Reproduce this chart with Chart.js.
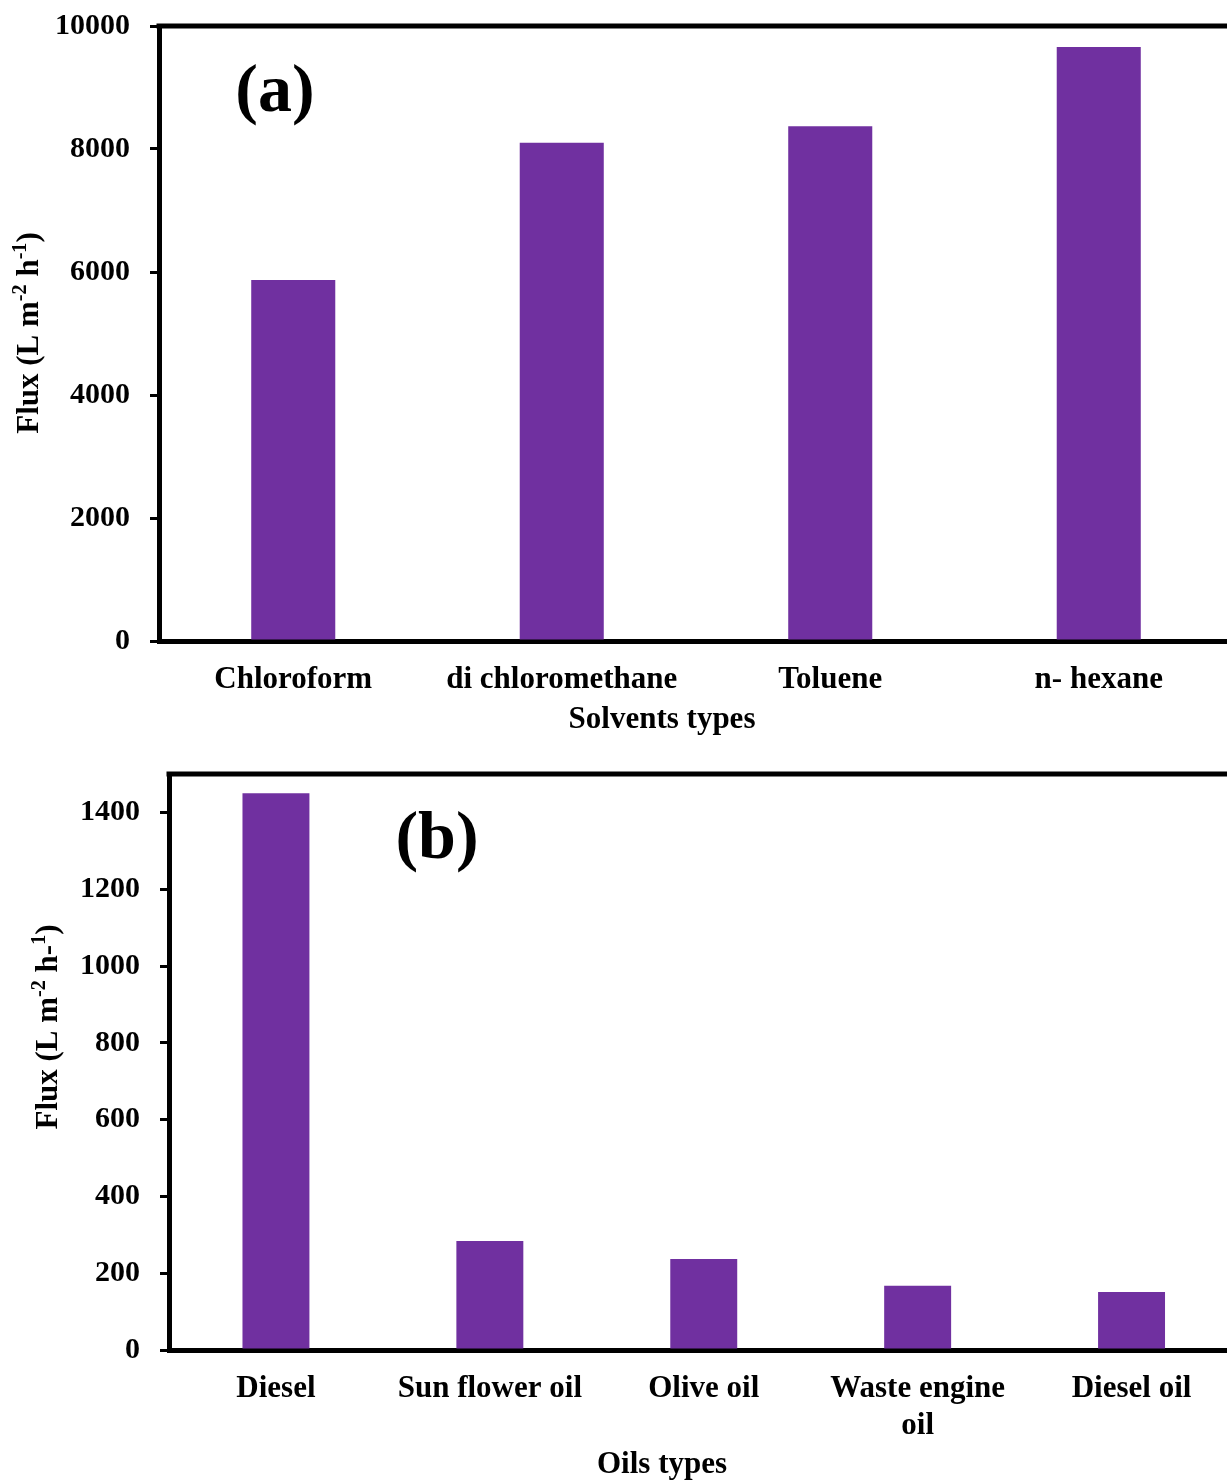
<!DOCTYPE html>
<html>
<head>
<meta charset="utf-8">
<script src="https://cdn.jsdelivr.net/npm/chart.js@4"></script>
<style>
    html, body { margin: 0; padding: 0; background: #fff; overflow: hidden; width: 1227px; height: 1482px; }
    canvas { position: absolute; left: 0; display: block; }
    #solventChart { top: 0; }
    #oilChart { top: 745px; }
</style>
</head>
<body>
<canvas id="solventChart" width="1245" height="745"></canvas>
<canvas id="oilChart" width="1245" height="737"></canvas>
<script>
const solventTypes = ['Chloroform', 'di chloromethane', 'Toluene', 'n- hexane'];
const solventFlux = [5870, 8100, 8370, 9660];

const oilTypes = ['Diesel', 'Sun flower oil', 'Olive oil', ['Waste engine', 'oil'], 'Diesel oil'];
const oilFlux = [1450, 284, 237, 167, 151];

const FONT = "'Liberation Serif', 'Times New Roman', serif";
const PURPLE = '#7030a0';

// draws text with superscript parts, optionally rotated
function drawRich(ctx, parts, cx, cy, size, rotate) {
    ctx.save();
    ctx.translate(cx, cy);
    if (rotate) ctx.rotate(-Math.PI / 2);
    ctx.fillStyle = '#000';
    ctx.textBaseline = 'alphabetic';
    ctx.textAlign = 'left';
    let total = 0;
    const widths = parts.map(p => {
        ctx.font = 'bold ' + (p.sup ? size * 0.65 : size) + 'px ' + FONT;
        const w = ctx.measureText(p.t).width;
        total += w;
        return w;
    });
    let x = -total / 2;
    parts.forEach((p, i) => {
        ctx.font = 'bold ' + (p.sup ? size * 0.65 : size) + 'px ' + FONT;
        ctx.fillText(p.t, x, size * 0.33 - (p.sup ? size * 0.4 : 0));
        x += widths[i];
    });
    ctx.restore();
}

const frameText = {
    id: 'frameText',
    afterDraw(chart, args, opts) {
        const ctx = chart.ctx;
        const area = chart.chartArea;
        // top border of the plot frame
        ctx.save();
        ctx.strokeStyle = '#000';
        ctx.lineWidth = 5;
        ctx.beginPath();
        ctx.moveTo(area.left - 2.5, area.top);
        ctx.lineTo(chart.width, area.top);
        ctx.stroke();
        ctx.restore();

        ctx.save();
        ctx.fillStyle = '#000';
        ctx.textAlign = 'center';
        ctx.textBaseline = 'middle';
        ctx.font = 'bold 68px ' + FONT;
        ctx.fillText(opts.panel, opts.panelX, opts.panelY);
        ctx.font = 'bold 31px ' + FONT;
        ctx.fillText(opts.xTitle, opts.xTitleX, opts.xTitleY);
        ctx.restore();

        drawRich(ctx, opts.yTitle, opts.yTitleX, opts.yTitleY, 31, true);
    }
};

function makeOptions(cfg) {
    return {
        responsive: false,
        animation: false,
        layout: { padding: { top: cfg.padTop, right: cfg.padRight, left: 0, bottom: 0 } },
        plugins: {
            legend: { display: false },
            tooltip: { enabled: false },
            frameText: cfg.text
        },
        scales: {
            x: {
                z: 1,
                grid: { display: false, drawTicks: false },
                border: { display: true, color: '#000', width: 5 },
                ticks: {
                    color: '#000', padding: 20, maxRotation: 0, autoSkip: false,
                    font: { family: FONT, size: 31, weight: 'bold', lineHeight: 1.2 }
                },
                afterFit: (scale) => {
                    scale.height = cfg.xHeight;
                    scale.paddingLeft = 0;
                    scale.paddingRight = 0;
                }
            },
            y: {
                z: 1,
                min: 0,
                max: cfg.max,
                grid: { display: true, drawOnChartArea: false, drawTicks: true, tickLength: 9, color: '#000', lineWidth: 3 },
                border: { display: true, color: '#000', width: 5 },
                ticks: {
                    stepSize: cfg.step, color: '#000', padding: 20,
                    font: { family: FONT, size: 30, weight: 'bold' },
                    callback: (value) => String(value)
                },
                afterBuildTicks: (scale) => {
                    scale.ticks = scale.ticks.filter(t => t.value <= cfg.lastTick);
                },
                afterFit: (scale) => {
                    scale.width = cfg.yWidth;
                    scale.paddingTop = 0;
                    scale.paddingBottom = 0;
                }
            }
        }
    };
}

function renderSolventChart() {
    const ctx = document.getElementById('solventChart').getContext('2d');
    new Chart(ctx, {
        type: 'bar',
        data: {
            labels: solventTypes,
            datasets: [{
                data: solventFlux,
                backgroundColor: PURPLE,
                borderWidth: 0,
                categoryPercentage: 1,
                barPercentage: 0.313
            }]
        },
        options: makeOptions({
            padTop: 26, padRight: 12, xHeight: 104, yWidth: 159,
            max: 10000, step: 2000, lastTick: 10000,
            text: {
                panel: '(a)', panelX: 275, panelY: 93,
                xTitle: 'Solvents types', xTitleX: 662, xTitleY: 720,
                yTitle: [{ t: 'Flux (L m' }, { t: '-2', sup: true }, { t: ' h' }, { t: '-1', sup: true }, { t: ')' }],
                yTitleX: 28, yTitleY: 333
            }
        }),
        plugins: [frameText]
    });
}

function renderOilChart() {
    const ctx = document.getElementById('oilChart').getContext('2d');
    new Chart(ctx, {
        type: 'bar',
        data: {
            labels: oilTypes,
            datasets: [{
                data: oilFlux,
                backgroundColor: PURPLE,
                borderWidth: 0,
                categoryPercentage: 1,
                barPercentage: 0.313
            }]
        },
        options: makeOptions({
            padTop: 29, padRight: 6.5, xHeight: 132, yWidth: 169,
            max: 1500, step: 200, lastTick: 1400,
            text: {
                panel: '(b)', panelX: 437, panelY: 95,
                xTitle: 'Oils types', xTitleX: 662, xTitleY: 720,
                yTitle: [{ t: 'Flux (L m' }, { t: '-2', sup: true }, { t: ' h-' }, { t: '1', sup: true }, { t: ')' }],
                yTitleX: 47, yTitleY: 282
            }
        }),
        plugins: [frameText]
    });
}

document.addEventListener('DOMContentLoaded', () => {
    renderSolventChart();
    renderOilChart();
});
</script>
</body>
</html>
